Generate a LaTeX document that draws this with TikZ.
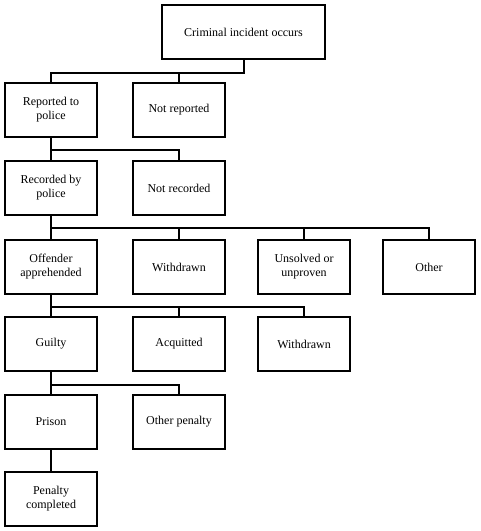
\documentclass[tikz,border=0pt]{standalone}
\usepackage{fontspec}
\setmainfont{Liberation Serif}
\begin{document}
\begin{tikzpicture}[x=1pt,y=-1pt,line width=2pt,
  box/.style={draw,minimum width=92pt,minimum height=54pt,inner sep=0pt,
    align=center,font=\fontsize{12}{14}\selectfont}]
  \useasboundingbox (0,0) rectangle (481,531);
  \node[box,minimum width=163pt] (crime) at (243.5,32) {Criminal incident occurs};
  \node[box] (rep) at (51,110) {Reported to\\police};
  \node[box] (notrep) at (179,110) {Not reported};
  \node[box] (rec) at (51,188) {Recorded by\\police};
  \node[box] (notrec) at (179,188) {Not recorded};
  \node[box] (appr) at (51,267) {Offender\\apprehended};
  \node[box] (withd) at (179,267) {Withdrawn};
  \node[box] (unsolved) at (304,267) {Unsolved or\\unproven};
  \node[box] (other) at (429,267) {Other};
  \node[box] (guilty) at (51,344) {Guilty};
  \node[box] (acq) at (179,344) {Acquitted};
  \node[box] (withdc) at (304,344) {Withdrawn};
  \node[box] (prison) at (51,422) {Prison};
  \node[box] (otherpen) at (179,422) {Other penalty};
  \node[box] (done) at (51,499) {Penalty\\completed};
  % connectors
  \draw (crime.south) -- ++(0,13) -| (rep.north);
  \draw (crime.south) ++(0,13) -| (notrep.north);
  \draw (rep.south) -- ++(0,12) -| (notrec.north);
  \draw (rep.south) -- (rec.north);
  \draw (rec.south) -- ++(0,12) -| (other.north);
  \draw (rec.south) -- (appr.north);
  \draw (rec.south) ++(0,12) -| (withd.north);
  \draw (rec.south) ++(0,12) -| (unsolved.north);
  \draw (appr.south) -- ++(0,12) -| (withdc.north);
  \draw (appr.south) -- (guilty.north);
  \draw (appr.south) ++(0,12) -| (acq.north);
  \draw (guilty.south) -- ++(0,13) -| (otherpen.north);
  \draw (guilty.south) -- (prison.north);
  \draw (prison.south) -- (done.north);
\end{tikzpicture}
\end{document}
